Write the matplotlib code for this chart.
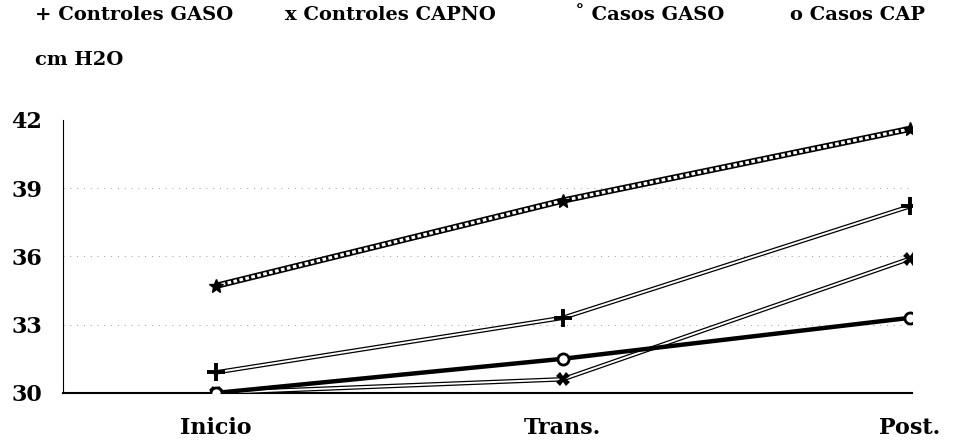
import matplotlib
matplotlib.use("Agg")
import matplotlib.pyplot as plt

categories = ["Inicio", "Trans.", "Post."]
controles_gaso = [30.9, 33.3, 38.2]
controles_capno = [30.0, 30.6, 35.9]
casos_gaso = [34.7, 38.45, 41.6]
casos_cap = [30.0, 31.5, 33.3]
yticks = [30, 33, 36, 39, 42]

serif = ["DejaVu Serif"]

fig = plt.figure(figsize=(9.54, 4.42), dpi=100)
ax = fig.add_axes([0.066, 0.111, 0.890, 0.618])
x = list(range(len(categories)))

# faint dotted grid
for yv in yticks[1:-1]:
    ax.axhline(yv, color="0.6", lw=0.7, ls=(0, (1, 6)), zorder=0)

# Casos GASO: hatched thick line
ax.plot(x, casos_gaso, color="black", lw=4.5, solid_capstyle="butt", zorder=3)
ax.plot(x, casos_gaso, color="white", lw=2.2, ls=(0, (1.2, 0.8)), zorder=4)
ax.plot(x, casos_gaso, ls="none", marker="*", ms=10, color="black", zorder=5)

# Controles GASO: double thin line
ax.plot(x, controles_gaso, color="black", lw=3.2, zorder=3)
ax.plot(x, controles_gaso, color="white", lw=1.4, zorder=4)
ax.plot(x, controles_gaso, ls="none", marker="+", ms=13, color="black",
        markeredgewidth=2.8, zorder=5)

# Controles CAPNO: double thin line
ax.plot(x, controles_capno, color="black", lw=3.2, zorder=3)
ax.plot(x, controles_capno, color="white", lw=1.4, zorder=4)
ax.plot(x, controles_capno, ls="none", marker="X", ms=10, color="black",
        markeredgewidth=0, zorder=5)

# Casos CAP: thick solid line
ax.plot(x, casos_cap, color="black", lw=3.2, zorder=6)
ax.plot(x, casos_cap, ls="none", marker="o", ms=8, mfc="white", mec="black",
        mew=2, zorder=7)

ax.set_xlim(-0.44, 2.006)
ax.set_ylim(30, 42)
ax.set_yticks(yticks)
ax.set_yticklabels([str(v) for v in yticks], fontsize=16, fontweight="bold",
                   family=serif)
ax.set_xticks(x)
ax.set_xticklabels(categories, fontsize=16, fontweight="bold", family=serif)
ax.tick_params(axis="both", length=0)
ax.tick_params(axis="y", pad=15)
ax.tick_params(axis="x", pad=17)
for s in ["top", "right"]:
    ax.spines[s].set_visible(False)
ax.spines["left"].set_linewidth(0.8)
ax.spines["bottom"].set_linewidth(1.5)

legend_items = [
    (0.037, "+ Controles GASO"),
    (0.299, "x Controles CAPNO"),
    (0.603, "˚ Casos GASO"),
    (0.828, "o Casos CAP"),
]
for xp, txt in legend_items:
    fig.text(xp, 0.965, txt, fontsize=14, fontweight="bold", family=serif,
             va="center", ha="left")
fig.text(0.037, 0.865, "cm H2O", fontsize=14, fontweight="bold", family=serif,
         va="center", ha="left")

fig.savefig("out.png", dpi=100)
